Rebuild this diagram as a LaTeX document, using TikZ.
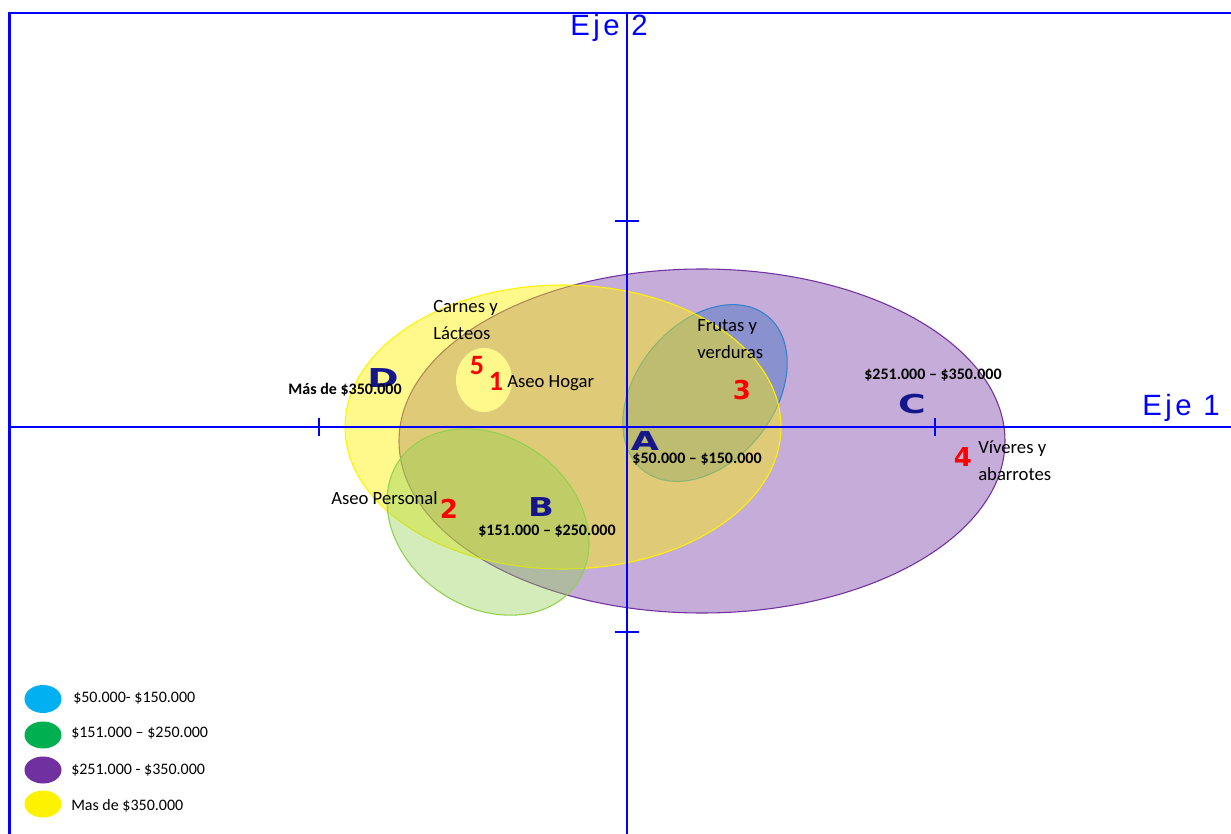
\documentclass[tikz,border=0pt]{standalone}
\usepackage{fontspec}
\usepackage{graphicx}
\setmainfont{Carlito}
\newfontfamily\ejefont{Liberation Sans}[LetterSpace=12]
\newfontfamily\widefont{DejaVu Sans}
\definecolor{ejeblue}{RGB}{0,0,255}
\definecolor{grpnavy}{RGB}{22,22,140}
\definecolor{legblue}{RGB}{0,176,240}
\definecolor{leggreen}{RGB}{0,176,80}
\definecolor{legpurple}{RGB}{112,48,160}
\definecolor{zonegreen}{RGB}{146,208,80}
\definecolor{zoneblue}{RGB}{68,114,196}
\definecolor{zoneblueline}{RGB}{50,130,200}
\newcommand{\widechar}[2]{\scalebox{#1}[1]{#2}}
\tikzset{
  axisline/.style={line width=2pt,color=ejeblue},
  axtick/.style={line width=1.5pt,color=ejeblue},
  ejelabel/.style={font=\fontsize{22}{22}\selectfont\ejefont,text=ejeblue,inner sep=0pt},
  catlabel/.style={font=\fontsize{14}{20.5}\selectfont,align=left,anchor=west,inner sep=0pt},
  rangelabel/.style={font=\fontsize{12}{14}\selectfont\bfseries,inner sep=0pt},
  grplabel/.style={font=\fontsize{19.5}{20}\selectfont\widefont\bfseries,text=grpnavy,inner sep=0pt},
  numlabel/.style={font=\fontsize{19.5}{20}\selectfont\widefont\bfseries,text=red,inner sep=0pt},
  rednum/.style={font=\fontsize{21}{21}\selectfont\bfseries,text=red,inner sep=0pt},
  legtext/.style={font=\fontsize{12}{14}\selectfont,anchor=west,inner sep=0pt}
}
\begin{document}
\begin{tikzpicture}[x=0.75pt,y=-0.75pt]
    \fill[white] (0,0) rectangle (1231,834);
    \useasboundingbox (0,0) rectangle (1231,834);
    % zones
    \draw[color=legpurple,line width=0.8pt,fill=legpurple,fill opacity=0.4] (702,441) ellipse [x radius=303, y radius=172];
    \draw[color=zoneblueline,line width=0.8pt,fill=zoneblue,fill opacity=0.45,rotate around={51:(705,393)}] (705,393) ellipse [x radius=99, y radius=69];
    \draw[color=yellow,line width=0.8pt,fill=yellow,fill opacity=0.45] (563,427) ellipse [x radius=218, y radius=142];
    \draw[color=zonegreen,line width=0.8pt,fill=zonegreen,fill opacity=0.4,rotate around={-35:(488,522)}] (488,522) ellipse [x radius=108, y radius=85];
    \fill[yellow!45] (484,380) ellipse [x radius=28, y radius=32];
    % frame and axes
    \coordinate (TL) at (9.5,13);
    \coordinate (TR) at (1231,13);
    \coordinate (BL) at (9.5,834);
    \draw[line width=1.8pt,color=ejeblue] (BL) -- (TL) -- (TR);
    \coordinate (Ytop) at (627,13);
    \coordinate (Ybot) at (627,834);
    \coordinate (Xleft) at (9.5,427);
    \coordinate (Xright) at (1231,427);
    \draw[axisline] (Ytop) -- (Ybot);
    \draw[axisline] (Xleft) -- (Xright);
    \foreach \ty in {221,632} {
        \draw[axtick] (615,\ty) -- (639,\ty);
    }
    \foreach \tx in {319,935} {
        \draw[axtick] (\tx,418) -- (\tx,436);
    }
    \node[ejelabel] (eje2) at (609,28) {Eje 2};
    \node[ejelabel] (eje1) at (1181,408) {Eje 1};
    % groups
    \node[grplabel] (D) at (383,378) {\widechar{1.45}{D}};
    \node[grplabel] (A) at (645,441) {\widechar{1.4}{A}};
    \node[grplabel] (B) at (541,507) {\widechar{1.3}{B}};
    \node[grplabel] (C) at (912,404) {\widechar{1.45}{C}};
    \node[numlabel] (n2) at (449,509) {2};
    \node[numlabel] (n3) at (742,390) {3};
    \node[numlabel] (n4) at (963,457) {4};
    \node[rednum] (n5) at (477,366) {5};
    \node[rednum] (n1) at (496,381) {1};
    % categories
    \node[catlabel] (carnes) at (433,320) {Carnes y\\Lácteos};
    \node[catlabel] (frutas) at (697,339) {Frutas y\\verduras};
    \node[catlabel] (hogar) at (507,383) {Aseo Hogar};
    \node[catlabel] (personal) at (331,498) {Aseo Personal};
    \node[catlabel] (viveres) at (978,461) {Víveres y\\abarrotes};
    % ranges
    \node[rangelabel] (rD) at (345,390) {Más de \$350.000};
    \node[rangelabel] (rC) at (933,375) {\$251.000 – \$350.000};
    \node[rangelabel] (rA) at (697,459) {\$50.000 – \$150.000};
    \node[rangelabel] (rB) at (547,531) {\$151.000 – \$250.000};
    % legend
    \fill[legblue] (43,699) ellipse [x radius=18.5, y radius=14];
    \fill[leggreen] (43,735) ellipse [x radius=18.5, y radius=13.5];
    \fill[legpurple] (43,770) ellipse [x radius=18.5, y radius=13.5];
    \fill[yellow] (43,804) ellipse [x radius=18.5, y radius=13.5];
    \node[legtext] (l1) at (73,698) {\$50.000- \$150.000};
    \node[legtext] (l2) at (71,733) {\$151.000 – \$250.000};
    \node[legtext] (l3) at (71,770) {\$251.000 - \$350.000};
    \node[legtext] (l4) at (71,806) {Mas de \$350.000};
\end{tikzpicture}
\end{document}
